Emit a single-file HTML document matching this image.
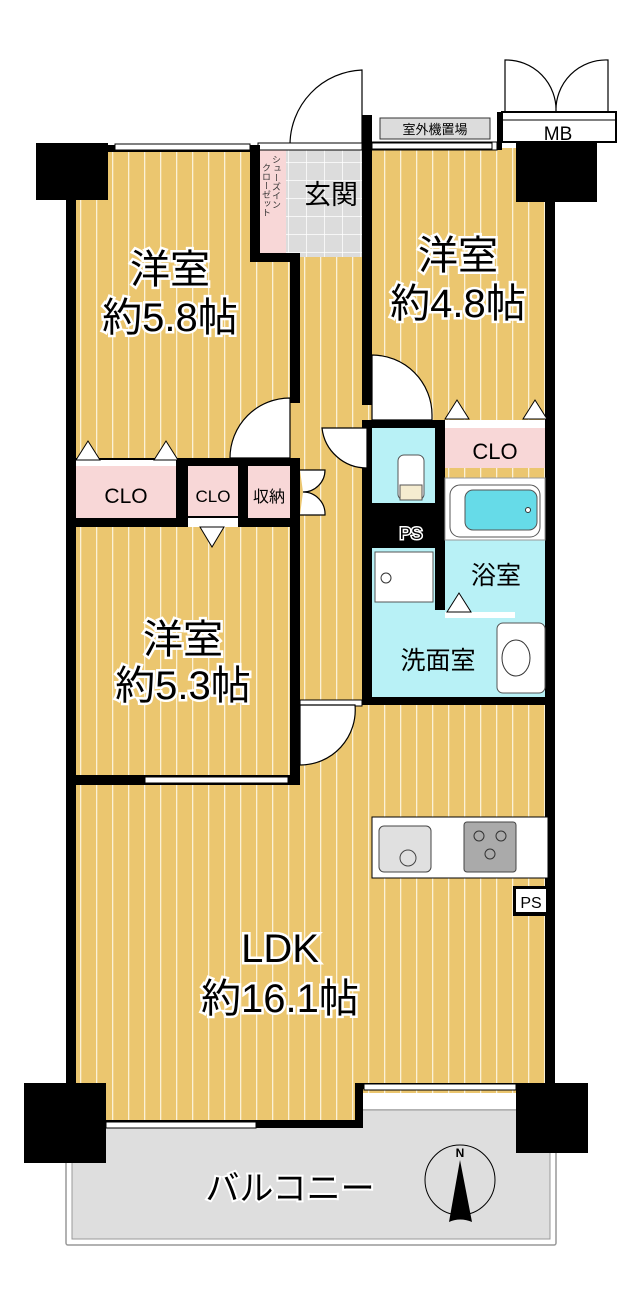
<!DOCTYPE html>
<html><head><meta charset="utf-8"><style>
html,body{margin:0;padding:0;background:#fff;}
svg{display:block;}
text{font-family:"Liberation Sans","Noto Sans CJK JP",sans-serif;}
</style></head><body>
<svg width="642" height="1302" viewBox="0 0 642 1302" xmlns="http://www.w3.org/2000/svg">
<defs>
<pattern id="fl" width="16" height="20" patternUnits="userSpaceOnUse">
<rect width="16" height="20" fill="#ebc66f"/>
<rect x="0" y="0" width="1.3" height="20" fill="#fbf1d6"/>
</pattern>
<pattern id="tile" width="18" height="18" patternUnits="userSpaceOnUse">
<rect width="18" height="18" fill="#dcdcdc"/>
<path d="M0 0H18M0 0V18" stroke="#fff" stroke-width="1.5"/>
</pattern>
</defs>
<rect x="66" y="1110" width="490" height="135" fill="#fff" stroke="#999" stroke-width="1.5" rx="2"/>
<rect x="72" y="1110" width="478" height="129" fill="#dedede" stroke="#999" stroke-width="1"/>
<rect x="72" y="148" width="478" height="945" fill="url(#fl)"/>
<rect x="72" y="1080" width="290" height="45" fill="url(#fl)"/>
<rect x="258" y="150" width="104" height="107" fill="url(#tile)"/>
<rect x="258" y="150" width="28" height="105" fill="#f8d7d7"/>
<rect x="372" y="142" width="125" height="8" fill="#fff" stroke="#000"/>
<rect x="380" y="118" width="110" height="21" fill="#dcdcdc" stroke="#333"/>
<text x="435" y="134" font-size="13" text-anchor="middle">室外機置場</text>
<path d="M505 112V60A50 50 0 0 1 556 112M608 112V60A50 50 0 0 0 556 112" fill="#fff" stroke="#000" stroke-width="1.2"/>
<rect x="502" y="112" width="114" height="30" fill="#fff" stroke="#000" stroke-width="2"/>
<line x1="502" y1="120" x2="616" y2="120" stroke="#000"/>
<text x="558" y="140" font-size="19" text-anchor="middle">MB</text>
<path d="M362 145V70A75 75 0 0 0 290 145Z" fill="#fff" stroke="#000" stroke-width="1.2"/>
<rect x="258" y="143" width="104" height="7" fill="#fff" stroke="#000" stroke-width="1"/>
<g fill="#000">
<rect x="36" y="143" width="72" height="57"/>
<rect x="66" y="145" width="10" height="945"/>
<rect x="108" y="145" width="150" height="7"/>
<rect x="250" y="145" width="10" height="117"/>
<rect x="250" y="253" width="50" height="9"/>
<rect x="290" y="253" width="10" height="150"/>
<rect x="362" y="115" width="10" height="290"/>
<rect x="497" y="112" width="5" height="38"/>
<rect x="516" y="142" width="81" height="60"/>
<rect x="545" y="180" width="10" height="905"/>
<rect x="66" y="458" width="234" height="69"/>
<rect x="290" y="527" width="10" height="258"/>
<rect x="66" y="775" width="234" height="10"/>
<rect x="362" y="420" width="10" height="285"/>
<rect x="362" y="420" width="186" height="8"/>
<rect x="435" y="420" width="10" height="190"/>
<rect x="362" y="503" width="83" height="45"/>
<rect x="362" y="697" width="186" height="8"/>
<rect x="24" y="1083" width="82" height="80"/>
<rect x="516" y="1083" width="72" height="70"/>
<rect x="100" y="1120" width="262" height="8"/>
<rect x="355" y="1083" width="8" height="45"/>
<rect x="355" y="1083" width="165" height="6"/>
</g>
<g fill="#fff" stroke="#000" stroke-width="1">
<rect x="115" y="144" width="135" height="6"/>
<rect x="372" y="143" width="120" height="6"/>
<rect x="145" y="777" width="143" height="6"/>
<rect x="106" y="1122" width="150" height="6"/>
<rect x="364" y="1084" width="152" height="6"/>
<rect x="300" y="700" width="62" height="6"/>
</g>
<rect x="76" y="466" width="100" height="52" fill="#f8d7d7"/>
<rect x="188" y="466" width="50" height="50" fill="#f8d7d7"/>
<rect x="248" y="466" width="42" height="52" fill="#f8d7d7"/>
<rect x="445" y="428" width="100" height="40" fill="#f8d7d7"/>
<rect x="76" y="460" width="100" height="6" fill="#fff"/>
<rect x="445" y="420" width="100" height="8" fill="#fff"/>
<rect x="188" y="518" width="50" height="9" fill="#fff"/>
<g fill="#fff" stroke="#000" stroke-width="1">
<path d="M76 460L88 441L100 460Z"/><path d="M154 460L166 441L178 460Z"/>
<path d="M445 419L457 400L469 419Z"/><path d="M523 419L535 400L547 419Z"/>
<path d="M200 527L212 547L224 527Z"/>
</g>
<text x="126" y="503" font-size="21" text-anchor="middle">CLO</text>
<text x="213" y="502" font-size="17" text-anchor="middle">CLO</text>
<text x="269" y="502" font-size="16" text-anchor="middle">収納</text>
<text x="495" y="459" font-size="22" text-anchor="middle">CLO</text>
<g fill="#fff" stroke="#000" stroke-width="1.2">
<path d="M230 458A60 60 0 0 1 290 398V458Z"/>
<path d="M372 355A60 60 0 0 1 432 415V420H372Z"/>
<path d="M322 428A45 45 0 0 0 367 468V428Z"/>
<path d="M300 705V765A55 55 0 0 0 355 705Z"/>
<path d="M300 470H325A22 22 0 0 1 303 492M303 492A22 22 0 0 1 325 515H300"/>
</g>
<!-- wet area -->
<rect x="372" y="428" width="63" height="75" fill="#b8f1f6"/>
<rect x="398" y="455" width="26" height="45" rx="6" fill="#fff" stroke="#555"/>
<rect x="400" y="485" width="22" height="15" fill="#f5ecd0" stroke="#555"/>
<text x="411" y="539" font-size="17" fill="#000" stroke="#fff" stroke-width="3" paint-order="stroke" text-anchor="middle">PS</text>
<rect x="372" y="548" width="173" height="149" fill="#b8f1f6"/>
<rect x="375" y="552" width="58" height="50" fill="#fff" stroke="#555"/>
<circle cx="386" cy="578" r="5" fill="#fff" stroke="#333"/>
<rect x="435" y="548" width="10" height="62" fill="#000"/>
<rect x="445" y="478" width="100" height="134" fill="#b8f1f6"/>
<rect x="445" y="478" width="100" height="62" fill="#fff" stroke="#999"/>
<rect x="450" y="485" width="90" height="52" rx="10" fill="#fff" stroke="#555"/>
<rect x="465" y="490" width="72" height="40" rx="8" fill="#66dbe8" stroke="#555"/>
<circle cx="528" cy="510" r="2.5" fill="#fff" stroke="#333"/>
<text x="496" y="584" font-size="25" text-anchor="middle">浴室</text>
<rect x="445" y="612" width="70" height="6" fill="#fff"/>
<path d="M447 612L459 593L471 612Z" fill="#fff" stroke="#000"/>
<rect x="497" y="623" width="48" height="70" rx="6" fill="#fff" stroke="#555"/>
<ellipse cx="516" cy="658" rx="14" ry="18" fill="#fff" stroke="#333"/>
<text x="438" y="669" font-size="25" text-anchor="middle">洗面室</text>
<!-- kitchen -->
<rect x="372" y="817" width="176" height="61" fill="#fff" stroke="#000"/>
<rect x="379" y="826" width="52" height="46" rx="5" fill="#e0e0e0" stroke="#444"/>
<circle cx="408" cy="858" r="8" fill="#e0e0e0" stroke="#444"/>
<rect x="464" y="822" width="52" height="50" rx="3" fill="#aaa" stroke="#444"/>
<g fill="#aaa" stroke="#333"><circle cx="479" cy="836" r="5"/><circle cx="501" cy="836" r="5"/><circle cx="490" cy="854" r="5"/></g>
<rect x="513" y="886" width="35" height="30" fill="#000"/>
<rect x="516" y="889" width="30" height="23" fill="#fff"/>
<text x="531" y="908" font-size="16" text-anchor="middle">PS</text>
<g font-size="40" text-anchor="middle" fill="#000" stroke="#fff" stroke-width="5" paint-order="stroke">
<text x="170" y="283">洋室</text><text x="170" y="331">約5.8帖</text>
<text x="458" y="269">洋室</text><text x="458" y="317">約4.8帖</text>
<text x="183" y="653">洋室</text><text x="183" y="699">約5.3帖</text>
<text x="280" y="962">LDK</text><text x="280" y="1012">約16.1帖</text>
</g>
<text x="331" y="204" font-size="27" text-anchor="middle">玄関</text>
<text x="276" y="155" font-size="9" writing-mode="tb" fill="#333">シューズイン</text>
<text x="266" y="163" font-size="9" writing-mode="tb" fill="#333">クローゼット</text>
<text x="290" y="1200" font-size="34" text-anchor="middle" stroke="#fff" stroke-width="4" paint-order="stroke">バルコニー</text>
<circle cx="460" cy="1180" r="35" fill="none" stroke="#000" stroke-width="1"/>
<path d="M460 1160L449 1222Q460 1217 472 1222Z" fill="#000"/>
<text x="460" y="1157" font-size="12" font-family="Liberation Serif,serif" font-weight="bold" text-anchor="middle">N</text>
</svg>
</body></html>
